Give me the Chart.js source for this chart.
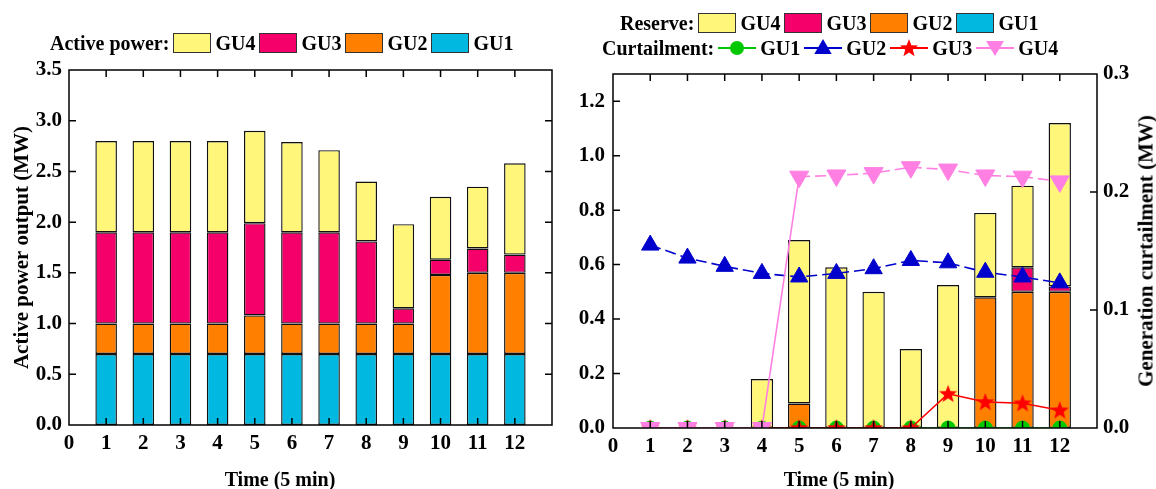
<!DOCTYPE html>
<html>
<head>
<meta charset="utf-8">
<script src="https://cdn.jsdelivr.net/npm/chart.js@4.4.1/dist/chart.umd.min.js"></script>
<style>
  body { margin: 0; background: #fff; }
  #wrap { position: relative; width: 1156px; height: 489px; overflow: hidden;
    font-family: "Liberation Serif", "Times New Roman", serif; font-weight: bold; color: #000; }
  canvas { position: absolute; top: 0; }
  .legend { position: absolute; display: flex; align-items: center; height: 24px; font-size: 20px; white-space: nowrap; }
  .box { width: 36px; height: 18px; border: 1px solid #333; margin: 0 4px 0 4px; }
  .sym { margin: 0 3px 0 3px; display: block; }
  .title { position: absolute; font-size: 20px; white-space: nowrap; transform: translate(-50%, -50%); }
  .vtitle { transform: translate(-50%, -50%) rotate(-90deg); font-size: 21px; }
</style>
</head>
<body>
<div id="wrap">
  <canvas id="left" width="570" height="489" style="left:0"></canvas>
  <canvas id="right" width="586" height="489" style="left:570px"></canvas>
  <div id="legLeft" class="legend" style="left:50px;top:31px"></div>
  <div id="legRes" class="legend" style="left:620px;top:11px"></div>
  <div id="legCur" class="legend" style="left:602px;top:36px"></div>
  <div class="title" style="left:280px;top:479px">Time (5 min)</div>
  <div class="title" style="left:839px;top:479px">Time (5 min)</div>
  <div class="title vtitle" style="left:1146px;top:251px">Generation curtailment (MW)</div>
</div>
<script>
const times = [1, 2, 3, 4, 5, 6, 7, 8, 9, 10, 11, 12];
const units = ["GU1", "GU2", "GU3", "GU4"];

// active power output (MW), stacked
const activeGU1 = [0.7, 0.7, 0.7, 0.7, 0.7, 0.7, 0.7, 0.7, 0.7, 0.7, 0.7, 0.7];
const activeGU2 = [0.3, 0.3, 0.3, 0.3, 0.38, 0.3, 0.3, 0.3, 0.3, 0.78, 0.8, 0.8];
const activeGU3 = [0.9, 0.9, 0.9, 0.9, 0.91, 0.9, 0.9, 0.81, 0.15, 0.15, 0.24, 0.18];
const activeGU4 = [0.9, 0.9, 0.9, 0.9, 0.91, 0.89, 0.81, 0.59, 0.83, 0.62, 0.61, 0.9];

// reserve (MW), stacked
const reserveGU1 = [0, 0, 0, 0, 0, 0, 0, 0, 0, 0, 0, 0];
const reserveGU2 = [0, 0, 0, 0, 0.09, 0, 0, 0, 0, 0.48, 0.5, 0.5];
const reserveGU3 = [0, 0, 0, 0, 0, 0, 0, 0, 0, 0, 0.09, 0.02];
const reserveGU4 = [0, 0, 0, 0.18, 0.6, 0.59, 0.5, 0.29, 0.525, 0.31, 0.3, 0.6];

// generation curtailment (MW), right axis
const curtGU1 = [0, 0, 0, 0, 0, 0, 0, 0, 0, 0, 0, 0];
const curtGU2 = [0.155, 0.144, 0.137, 0.131, 0.128, 0.131, 0.135, 0.142, 0.140, 0.132, 0.128, 0.123];
const curtGU3 = [0, 0, 0, 0, 0, 0, 0, 0, 0.029, 0.022, 0.021, 0.015];
const curtGU4 = [0, 0, 0, 0, 0.213, 0.214, 0.216, 0.221, 0.219, 0.214, 0.213, 0.209];

const barColors = ["#00b8e0", "#ff7f00", "#f5006b", "#fff67a"];
const lineColors = ["#00c800", "#0000cc", "#ff0000", "#ff80e2"];

const serif = '"Liberation Serif", "Times New Roman", serif';
const tickFont = { family: serif, weight: "bold", size: 21 };
Chart.defaults.color = "#000";

const pts = (vals) => vals.map((v, i) => ({ x: times[i], y: v }));

function starPoints(cx, cy, R, r) {
  const p = [];
  for (let i = 0; i < 10; i++) {
    const a = -Math.PI / 2 + (i * Math.PI) / 5;
    const rr = i % 2 ? r : R;
    p.push([cx + rr * Math.cos(a), cy + rr * Math.sin(a)]);
  }
  return p;
}

const starImg = document.createElement("canvas");
starImg.width = 20;
starImg.height = 20;
(() => {
  const c = starImg.getContext("2d");
  c.beginPath();
  starPoints(10, 10.5, 9.5, 4).forEach(([x, y], i) => (i ? c.lineTo(x, y) : c.moveTo(x, y)));
  c.closePath();
  c.fillStyle = lineColors[2];
  c.fill();
})();

// frame with inward ticks on all four sides
const frame = {
  id: "frame",
  afterDatasetsDraw(chart) {
    const { ctx, chartArea: a, scales } = chart;
    const len = 7;
    ctx.save();
    ctx.strokeStyle = "#000";
    ctx.lineWidth = 1.5;
    ctx.beginPath();
    scales.x.ticks.forEach((t) => {
      if (t.value <= scales.x.min || t.value >= scales.x.max) return;
      const px = scales.x.getPixelForValue(t.value);
      ctx.moveTo(px, a.bottom);
      ctx.lineTo(px, a.bottom - len);
      ctx.moveTo(px, a.top);
      ctx.lineTo(px, a.top + len);
    });
    const yl = scales.y;
    const yr = scales.y1 || scales.y;
    yl.ticks.forEach((t) => {
      if (t.value <= yl.min || t.value >= yl.max) return;
      const py = yl.getPixelForValue(t.value);
      ctx.moveTo(a.left, py);
      ctx.lineTo(a.left + len, py);
    });
    yr.ticks.forEach((t) => {
      if (t.value <= yr.min || t.value >= yr.max) return;
      const py = yr.getPixelForValue(t.value);
      ctx.moveTo(a.right, py);
      ctx.lineTo(a.right - len, py);
    });
    ctx.stroke();
    ctx.strokeRect(a.left, a.top, a.right - a.left, a.bottom - a.top);
    ctx.restore();
  },
};

function xAxis(h) {
  return {
    type: "linear", min: 0, max: 13, stacked: true, offset: false,
    grid: { display: false, drawTicks: false }, border: { display: false },
    ticks: { stepSize: 1, padding: 6, font: tickFont, maxRotation: 0, autoSkip: false,
      callback: (v) => (v === 13 ? "" : v) },
    afterFit: (s) => { s.height = h; },
  };
}

function yAxis(max, step, w, pad, extra) {
  return Object.assign({
    min: 0, max, stacked: true,
    grid: { display: false, drawTicks: false }, border: { display: false },
    ticks: { stepSize: step, padding: pad, font: tickFont, includeBounds: false,
      callback: (v) => v.toFixed(1) },
    afterFit: (s) => { s.width = w; },
  }, extra || {});
}

const common = {
  responsive: false, animation: false, devicePixelRatio: 1,
  plugins: { legend: { display: false }, tooltip: { enabled: false } },
};

const barOpts = { categoryPercentage: 1, borderWidth: 1.4, borderColor: "#111", borderSkipped: false };

new Chart(document.getElementById("left"), {
  type: "bar",
  data: {
    datasets: [activeGU1, activeGU2, activeGU3, activeGU4].map((d, i) => ({
      label: units[i], data: pts(d), backgroundColor: barColors[i],
    })),
  },
  options: Object.assign({}, common, {
    layout: { padding: { top: 70, right: 18, bottom: 0, left: 0 } },
    datasets: { bar: Object.assign({ barPercentage: 0.58 }, barOpts) },
    scales: {
      x: xAxis(64),
      y: yAxis(3.5, 0.5, 69, 7, {
        title: { display: true, text: "Active power output (MW)",
          font: { family: serif, weight: "bold", size: 21 }, padding: { top: 10, bottom: 0 } },
      }),
    },
  }),
  plugins: [frame],
});

const lineStyle = [
  { pointStyle: "circle", radius: 7, rotation: 0, dash: [] },
  { pointStyle: "triangle", radius: 10, rotation: 0, dash: [11, 5] },
  { pointStyle: starImg, radius: 9, rotation: 0, dash: [] },
  { pointStyle: "triangle", radius: 11, rotation: 180, dash: [11, 5] },
];

const reserveSets = [reserveGU1, reserveGU2, reserveGU3, reserveGU4].map((d, i) => ({
  type: "bar", label: "Reserve " + units[i], data: pts(d), backgroundColor: barColors[i],
  yAxisID: "y", order: 10,
}));

const curtSets = [curtGU1, curtGU2, curtGU3, curtGU4].map((d, i) => ({
  type: "line", label: "Curtailment " + units[i], data: pts(d), yAxisID: "y1",
  borderColor: lineColors[i], backgroundColor: lineColors[i], borderWidth: 1.6,
  borderDash: lineStyle[i].dash,
  segment: { borderDash: (c) => (c.p0.parsed.y === 0 ? [] : undefined) },
  pointStyle: lineStyle[i].pointStyle, pointRadius: lineStyle[i].radius,
  pointRotation: lineStyle[i].rotation, pointBorderWidth: 1,
  pointBorderColor: lineColors[i], pointBackgroundColor: lineColors[i],
  order: 4 - i,
}));

new Chart(document.getElementById("right"), {
  type: "bar",
  data: { datasets: reserveSets.concat(curtSets) },
  options: Object.assign({}, common, {
    layout: { padding: { top: 74, right: 0, bottom: 0, left: 0 } },
    datasets: { bar: Object.assign({ barPercentage: 0.6 }, barOpts) },
    scales: {
      x: xAxis(61),
      y: yAxis(1.3, 0.2, 43, 8),
      y1: yAxis(0.3, 0.1, 59, 6, { position: "right", stacked: false }),
    },
  }),
  plugins: [frame],
});

// legends
function boxItem(color, name) {
  return `<div class="box" style="background:${color}"></div><span>${name}</span>`;
}
function symItem(i, name) {
  const c = lineColors[i];
  let m = "";
  if (i === 0) m = `<circle cx="20" cy="12" r="7" fill="${c}"/>`;
  if (i === 1) m = `<polygon points="20,3 28.7,18 11.3,18" fill="${c}"/>`;
  if (i === 2) m = `<polygon points="${starPoints(20, 12.5, 9.5, 4).map((p) => p.join(",")).join(" ")}" fill="${c}"/>`;
  if (i === 3) m = `<polygon points="11,5 29,5 20,20" fill="${c}"/>`;
  return `<svg class="sym" width="40" height="24"><line x1="1" y1="12" x2="39" y2="12" stroke="${c}" stroke-width="2"/>${m}</svg><span>${name}</span>`;
}
const order = [3, 2, 1, 0];
document.getElementById("legLeft").innerHTML =
  "<span>Active power:</span>" + order.map((i) => boxItem(barColors[i], units[i])).join("");
document.getElementById("legRes").innerHTML =
  "<span>Reserve:</span>" + order.map((i) => boxItem(barColors[i], units[i])).join("");
document.getElementById("legCur").innerHTML =
  "<span>Curtailment:</span>" + [0, 1, 2, 3].map((i) => symItem(i, units[i])).join("");
</script>
</body>
</html>
